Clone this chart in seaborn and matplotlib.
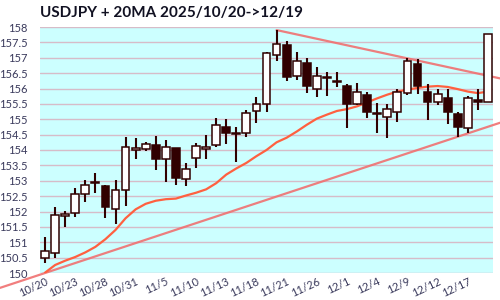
import matplotlib
matplotlib.use("Agg")
import matplotlib.pyplot as plt
import seaborn as sns
import numpy as np
import pandas as pd

dates = ["10/20","10/21","10/22","10/23","10/24","10/27","10/28","10/29","10/30","10/31",
         "11/3","11/4","11/5","11/6","11/7","11/10","11/11","11/12","11/13","11/14",
         "11/17","11/18","11/19","11/20","11/21","11/24","11/25","11/26","11/27","11/28",
         "12/1","12/2","12/3","12/4","12/5","12/8","12/9","12/10","12/11","12/12",
         "12/15","12/16","12/17","12/18","12/19"]

opens = [150.50,150.64,151.84,151.94,152.56,152.97,152.83,152.08,152.69,153.99,
         154.02,154.16,153.70,154.05,153.05,153.73,154.04,154.16,154.74,154.56,
         154.56,155.27,155.49,157.09,157.41,156.42,156.83,155.98,156.37,156.24,
         156.08,155.51,155.79,155.21,155.06,155.23,155.86,156.79,155.88,155.57,
         155.68,155.16,154.71,155.62,155.57]
highs = [151.17,152.14,152.02,152.75,153.02,153.26,152.85,153.02,154.43,154.38,
         154.27,154.46,154.33,154.07,153.57,154.22,154.49,155.03,155.01,154.74,
         155.30,155.73,157.18,157.90,157.54,157.18,156.98,156.71,156.55,156.55,
         156.14,156.17,155.90,155.52,155.49,155.98,156.98,156.95,156.14,155.97,
         155.98,155.23,155.77,155.97,157.78]
lows = [150.32,150.50,151.51,151.83,152.32,152.59,151.78,151.58,152.18,153.70,
        153.98,153.35,152.97,152.86,152.84,153.42,153.70,154.09,154.19,153.62,
        154.43,154.87,155.25,156.90,156.25,156.28,155.84,155.71,155.77,156.04,
        154.71,155.46,155.05,154.54,154.38,154.92,155.79,155.82,154.98,155.46,
        154.85,154.43,154.54,155.30,155.55]
closes = [150.72,151.88,151.91,152.57,152.86,152.92,152.14,152.69,154.09,154.05,
          154.18,153.70,154.09,153.10,153.39,154.13,154.11,154.81,154.54,154.52,
          155.21,155.51,157.14,157.44,156.38,156.89,156.09,156.42,156.35,156.20,
          155.50,155.88,155.25,155.16,155.32,155.88,156.89,156.08,155.57,155.81,
          155.23,154.76,155.68,155.57,157.76]
ma20 = [150.01,150.26,150.40,150.52,150.67,150.85,151.10,151.40,151.78,152.07,
        152.25,152.35,152.40,152.42,152.52,152.61,152.72,152.92,153.20,153.40,
        153.58,153.80,154.00,154.25,154.40,154.60,154.82,155.02,155.15,155.27,
        155.33,155.42,155.55,155.68,155.80,155.90,155.96,156.02,156.06,156.08,
        156.05,155.98,155.90,155.85,155.90]

# trend line anchor points (index, price)
lower_idx = [0, 42]
lower_val = [150.00, 154.54]
upper_idx = [23, 36]
upper_val = [157.90, 156.98]

tick_every = 3
yticks = [150, 150.5, 151, 151.5, 152, 152.5, 153, 153.5, 154, 154.5,
          155, 155.5, 156, 156.5, 157, 157.5, 158]

sns.set_style("white")
plt.rcParams['font.family'] = ['Lato', 'DejaVu Sans']

fig = plt.figure(figsize=(5, 3), dpi=100)
ax = fig.add_axes([0.08, 0.09, 0.906, 0.82])
ax.set_facecolor("#ccffff")
for s in ax.spines.values():
    s.set_visible(False)

n = len(dates)
idx = np.arange(n)
ax.set_xlim(-0.5, n - 0.5)
ax.set_ylim(150, 158)
ax.set_yticks(yticks)
ax.set_yticklabels([f"{v:g}" for v in yticks])
ax.yaxis.grid(True, color="#d6bcc8", linewidth=1.0, zorder=0)
ax.xaxis.grid(False)
ax.set_axisbelow(True)

# extents of figure in data x-coordinates
inv = ax.transData.inverted()
fig.canvas.draw()
x_left = inv.transform(fig.transFigure.transform((0, 0)))[0]
x_right = inv.transform(fig.transFigure.transform((1, 0)))[0]

def line_through(xi, yi, x0, x1):
    k = (yi[1] - yi[0]) / (xi[1] - xi[0])
    return [x0, x1], [yi[0] + k * (x0 - xi[0]), yi[0] + k * (x1 - xi[0])]

lx, ly = line_through(lower_idx, lower_val, x_left, x_right)
ux, uy = line_through(upper_idx, upper_val, upper_idx[0], x_right)
sns.lineplot(x=lx, y=ly, ax=ax, color="#f07070", linewidth=1.6, clip_on=False, zorder=2, alpha=0.9)
sns.lineplot(x=ux, y=uy, ax=ax, color="#f07070", linewidth=1.6, clip_on=False, zorder=2, alpha=0.9)

df = pd.DataFrame({"i": idx, "ma": ma20})
sns.lineplot(data=df, x="i", y="ma", ax=ax, color="#ff6040", linewidth=1.6, zorder=3)

o = np.array(opens); c = np.array(closes); h = np.array(highs); l = np.array(lows)
up = c >= o
dark = "#300000"
ax.vlines(idx, l, h, color=dark, linewidth=1.5, zorder=4)
bottoms = np.minimum(o, c)
heights = np.maximum(np.abs(c - o), 0.03)
ax.bar(idx, heights, bottom=bottoms, width=0.78,
       color=np.where(up, "white", dark), edgecolor=dark, linewidth=1.1, zorder=5)

ax.set_xticks(idx[::tick_every])
ax.set_xticklabels([dates[i] for i in idx[::tick_every]], rotation=25, ha="right",
                   rotation_mode="anchor")
ax.tick_params(axis="both", length=0, labelsize=8, colors="#3a3a5c")
ax.tick_params(axis="x", pad=2)
ax.tick_params(axis="y", pad=9)
ax.set_xlabel(""); ax.set_ylabel("")

fig.text(0.08, 0.955, "USDJPY + 20MA 2025/10/20->12/19", fontsize=11,
         fontweight="bold", color="#111122", va="center", ha="left")

fig.savefig("out.png", dpi=100)
